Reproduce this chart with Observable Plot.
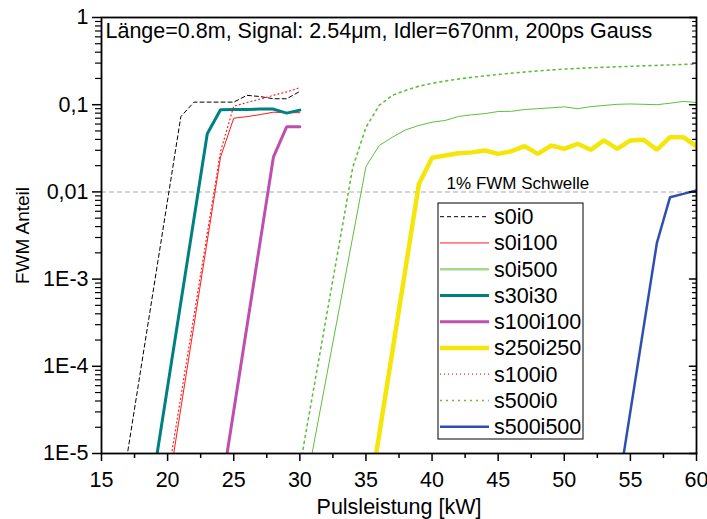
<!DOCTYPE html>
<html>
<head>
<meta charset="utf-8">
<script src="https://cdn.jsdelivr.net/npm/d3@7"></script>
<script src="https://cdn.jsdelivr.net/npm/@observablehq/plot@0.6"></script>
<style>
  body { margin: 0; background: #fff; }
  #chart { width: 707px; height: 519px; }
</style>
</head>
<body>
<div id="chart"></div>
<script>
// Texts
const titleText = "Länge=0.8m, Signal: 2.54μm, Idler=670nm, 200ps Gauss";
const xLabel = "Pulsleistung [kW]";
const yLabel = "FWM Anteil";
const thresholdText = "1% FWM Schwelle";
const thresholdLevel = 0.01;
const thresholdLabelAt = 41.1;

// Axis ticks
const xMajor = [15, 20, 25, 30, 35, 40, 45, 50, 55, 60];
const xMinor = [17.5, 22.5, 27.5, 32.5, 37.5, 42.5, 47.5, 52.5, 57.5];
const yMajor = [1e-5, 1e-4, 1e-3, 0.01, 0.1, 1];
const yTickLabels = ["1E-5", "1E-4", "1E-3", "0,01", "0,1", "1"];

// Series: pulse power [kW] and FWM fraction
const s0i0_kW = [16, 21, 22, 23, 24, 25, 26, 27, 28, 29, 30];
const s0i0_val = [1.2e-6, 0.073, 0.107, 0.107, 0.107, 0.107, 0.128, 0.124, 0.117, 0.117, 0.142];

const s0i100_kW = [20, 24, 25, 26, 27, 28, 29, 30];
const s0i100_val = [3.6e-6, 0.025, 0.070, 0.073, 0.077, 0.082, 0.081, 0.081];

const s0i500_kW = [30, 35, 36, 37, 38, 39, 40, 41, 42, 43, 44, 45, 46, 47, 48, 49, 50, 51, 52, 53, 54, 55, 56, 57, 58, 59, 60];
const s0i500_val = [1.8e-6, 0.0195, 0.034, 0.0424, 0.0515, 0.0577, 0.063, 0.066, 0.0733, 0.0766, 0.079, 0.0835, 0.084, 0.088, 0.090, 0.092, 0.0946, 0.090, 0.095, 0.098, 0.101, 0.102, 0.101, 0.100, 0.104, 0.109, 0.106];

const s30i30_kW = [19, 23, 24, 25, 26, 27, 28, 29, 30];
const s30i30_val = [6.3e-6, 0.0464, 0.0874, 0.088, 0.088, 0.089, 0.089, 0.080, 0.0866];

const s100i100_kW = [24, 28, 29, 30];
const s100i100_val = [3.3e-6, 0.025, 0.0557, 0.0557];

const s250i250_kW = [35, 39, 40, 41, 42, 43, 44, 45, 46, 47, 48, 49, 50, 51, 52, 53, 54, 55, 56, 57, 58, 59, 60];
const s250i250_val = [1.8e-6, 0.0122, 0.0246, 0.0261, 0.0278, 0.0284, 0.0298, 0.0273, 0.0293, 0.0334, 0.0273, 0.034, 0.0312, 0.0356, 0.0304, 0.0389, 0.0312, 0.0389, 0.0396, 0.0304, 0.0424, 0.0424, 0.0332];

const s100i0_kW = [20, 24, 25, 26, 27, 28, 29, 30];
const s100i0_val = [5.2e-6, 0.029, 0.096, 0.106, 0.116, 0.128, 0.140, 0.157];

const s500i0_kW = [30, 34, 35, 36, 37, 38, 39, 40, 41, 42, 43, 44, 45, 46, 47, 48, 49, 50, 52, 54, 56, 58, 60];
const s500i0_val = [7e-6, 0.019, 0.055, 0.098, 0.128, 0.146, 0.163, 0.176, 0.187, 0.197, 0.206, 0.214, 0.222, 0.230, 0.237, 0.244, 0.250, 0.256, 0.265, 0.272, 0.279, 0.286, 0.293];

const s500i500_kW = [54, 57, 58, 59, 60];
const s500i500_val = [3.3e-6, 0.00258, 0.0087, 0.0095, 0.0104];

// Line styles, in legend order
const series = [
  {name: "s0i0",     kW: s0i0_kW,     val: s0i0_val,     stroke: "#000000", width: 1,   dash: "4,3"},
  {name: "s0i100",   kW: s0i100_kW,   val: s0i100_val,   stroke: "#ff1a1a", width: 1,   dash: null},
  {name: "s0i500",   kW: s0i500_kW,   val: s0i500_val,   stroke: "#5fbf3f", width: 1,   dash: null, legendStroke: "#a3d98f", legendWidth: 2.5},
  {name: "s30i30",   kW: s30i30_kW,   val: s30i30_val,   stroke: "#008080", width: 3,   dash: null},
  {name: "s100i100", kW: s100i100_kW, val: s100i100_val, stroke: "#bf4fae", width: 3,   dash: null},
  {name: "s250i250", kW: s250i250_kW, val: s250i250_val, stroke: "#f5e60a", width: 4.5, dash: null},
  {name: "s100i0",   kW: s100i0_kW,   val: s100i0_val,   stroke: "#ff1a1a", width: 1.2, dash: "1,3"},
  {name: "s500i0",   kW: s500i0_kW,   val: s500i0_val,   stroke: "#5fbf3f", width: 1.6, dash: "2,4"},
  {name: "s500i500", kW: s500i500_kW, val: s500i500_val, stroke: "#2f4fb0", width: 2.5, dash: null}
];

const tickShape = {draw(ctx, l) { ctx.moveTo(0, 0); ctx.lineTo(0, -l); }};

// log minor ticks 2..9 per decade
const yMinor = [];
for (let e = -5; e < 0; ++e) for (let k = 2; k <= 9; ++k) yMinor.push(k * Math.pow(10, e));

const lineMarks = series.map(s => Plot.line(
  s.kW.map((x, i) => ({x, y: s.val[i]})),
  {x: "x", y: "y", stroke: s.stroke, strokeWidth: s.width, strokeDasharray: s.dash, clip: true, strokeLinejoin: "miter"}
));

const fmtY = d => yTickLabels[yMajor.findIndex(t => Math.abs(Math.log10(t) - Math.log10(d)) < 1e-6)];
const fontFamily = "'Liberation Sans', Arial, sans-serif";

const plot = Plot.plot({
  width: 707,
  height: 519,
  marginTop: 17,
  marginRight: 11,
  marginBottom: 66,
  marginLeft: 101,
  style: {fontFamily, fontSize: "21.5px", color: "#000", background: "#fff"},
  x: {domain: [15, 60], label: null},
  y: {type: "log", domain: [1e-5, 1], label: null},
  marks: [
    Plot.ruleY([thresholdLevel], {stroke: "#c8c8c8", strokeWidth: 1.5, strokeDasharray: "5,3"}),
    Plot.text([thresholdText], {x: thresholdLabelAt, y: thresholdLevel, dy: -8, textAnchor: "start", lineAnchor: "middle", fontSize: 17}),
    ...lineMarks,
    Plot.frame({stroke: "#000", strokeWidth: 1.8}),
    Plot.axisX(xMajor, {tickSize: 8, tickPadding: 10, tickFormat: d => String(d), label: null, strokeWidth: 1.5}),
    Plot.axisX(xMinor, {tickSize: 5, tickFormat: () => "", label: null, strokeWidth: 1.5}),
    Plot.axisY(yMajor, {tickSize: 9, tickPadding: 4, tickFormat: fmtY, label: null, strokeWidth: 1.5}),
    Plot.axisY(yMinor, {tickSize: 6, tickFormat: () => "", label: null, strokeWidth: 1.2}),
    Plot.vector(yMajor, {y: d => d, frameAnchor: "right", rotate: -90, length: 7, anchor: "start", shape: tickShape, stroke: "#000", strokeWidth: 1.5}),
    Plot.vector(yMinor, {y: d => d, frameAnchor: "right", rotate: -90, length: 4, anchor: "start", shape: tickShape, stroke: "#000", strokeWidth: 1.2}),
    Plot.text([titleText], {frameAnchor: "top-left", dx: 4, dy: 5, lineAnchor: "top", textAnchor: "start", fontSize: 21.5}),
    Plot.text([xLabel], {frameAnchor: "bottom", dy: 54, lineAnchor: "middle", fontSize: 21.5}),
    Plot.text([yLabel], {frameAnchor: "left", dx: -79, rotate: -90, textAnchor: "middle", lineAnchor: "middle", fontSize: 19})
  ]
});

// Legend box inside the plot area
const legend = {left: 438, top: 203, width: 145, height: 236, row: 26.25, first: 13.7, lineX1: 2, lineX2: 51, textX: 56};
const g = d3.select(plot).append("g")
  .attr("transform", `translate(${legend.left},${legend.top})`)
  .attr("font-family", fontFamily)
  .attr("text-anchor", "start");
g.append("rect")
  .attr("width", legend.width).attr("height", legend.height)
  .attr("fill", "#fff").attr("stroke", "#000").attr("stroke-width", 1);
series.forEach((s, i) => {
  const cy = legend.first + i * legend.row;
  g.append("line")
    .attr("x1", legend.lineX1).attr("x2", legend.lineX2).attr("y1", cy).attr("y2", cy)
    .attr("stroke", s.legendStroke || s.stroke)
    .attr("stroke-width", s.legendWidth || s.width)
    .attr("stroke-dasharray", s.dash);
  g.append("text")
    .attr("x", legend.textX).attr("y", cy).attr("dy", "0.35em")
    .attr("text-anchor", "start")
    .attr("font-size", 21.5).attr("fill", "#000")
    .text(s.name);
});

document.getElementById("chart").appendChild(plot);
</script>
</body>
</html>
